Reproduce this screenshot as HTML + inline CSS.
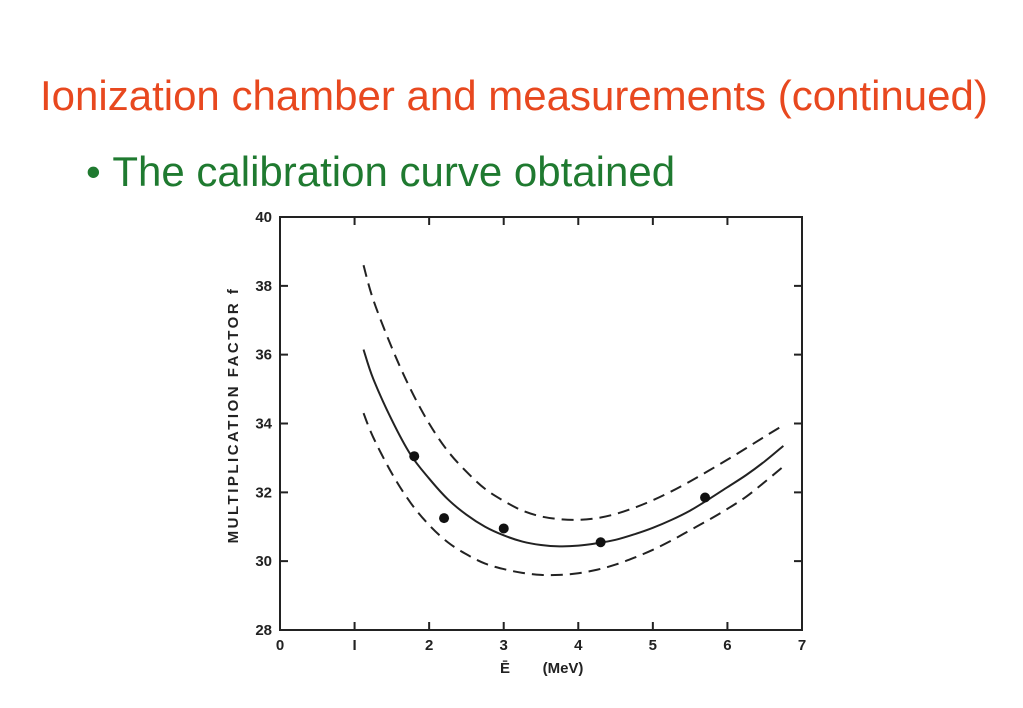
<!DOCTYPE html>
<html><head><meta charset="utf-8"><style>
body{margin:0;width:1023px;height:708px;background:#fff;overflow:hidden;font-family:"Liberation Sans",sans-serif}
.t{position:absolute;white-space:nowrap}
</style></head><body>
<div class="t" style="left:40px;top:72px;font-size:42px;color:#e8481f">Ionization chamber and measurements (continued)</div>
<div class="t" style="left:86px;top:148px;font-size:42px;color:#1f7a30">•&nbsp;The calibration curve obtained</div>
<svg width="1023" height="708" style="position:absolute;left:0;top:0">
<g id="g" font-family="Liberation Sans,sans-serif" font-weight="bold" fill="#222"></g>
</svg>
<script>
const xTicks=[0,1,2,3,4,5,6,7];
const yTicks=[28,30,32,34,36,38,40];
const curveX=[1.12,1.25,1.5,1.75,2,2.25,2.5,2.75,3,3.25,3.5,3.75,4,4.25,4.5,4.75,5,5.25,5.5,5.75,6,6.25,6.5,6.75];
const solidY=[36.15,35.3,34.1,33.1,32.4,31.8,31.35,31.0,30.75,30.57,30.47,30.43,30.45,30.52,30.62,30.78,30.97,31.2,31.47,31.8,32.15,32.5,32.9,33.35];
const upperY=[38.6,37.6,36.2,35.0,34.0,33.2,32.6,32.1,31.75,31.47,31.3,31.22,31.2,31.25,31.37,31.55,31.77,32.03,32.32,32.63,32.95,33.28,33.62,33.95];
const lowerY=[34.3,33.6,32.55,31.7,31.05,30.55,30.2,29.93,29.77,29.66,29.6,29.6,29.65,29.75,29.9,30.1,30.33,30.6,30.9,31.2,31.52,31.87,32.3,32.75];
const pointX=[1.8,2.2,3.0,4.3,5.7];
const pointY=[33.05,31.25,30.95,30.55,31.85];
const L=280,R=802,T=217,B=630;
const sx=v=>L+(v-0)/7*(R-L), sy=v=>B-(v-28)/12*(B-T);
const g=document.getElementById('g'),NS='http://www.w3.org/2000/svg';
function mk(t,a){const e=document.createElementNS(NS,t);for(const k in a)e.setAttribute(k,a[k]);g.appendChild(e);return e;}
const box=mk('rect',{x:L,y:T,width:R-L,height:B-T,fill:'none',stroke:'#222','stroke-width':2});


xTicks.forEach(v=>{const x=sx(v);
 if(v>0&&v<7){const a=mk('path',{d:`M${x},${B}V${B-8}M${x},${T}V${T+8}`,stroke:'#222','stroke-width':2});
 
 }
 const t=mk('text',{x:x,y:B+20,'font-size':15,'text-anchor':'middle'});t.textContent=v===1?'I':v;
 
 });
yTicks.forEach(v=>{const y=sy(v);
 if(v>28&&v<40){const a=mk('path',{d:`M${L},${y}H${L+8}M${R},${y}H${R-8}`,stroke:'#222','stroke-width':2});
 
 }
 const t=mk('text',{x:L-8,y:y+5,'font-size':15,'text-anchor':'end'});t.textContent=v;
 
 });
function path(xs,ys){const p=xs.map((x,i)=>[sx(x),sy(ys[i])]);let d=`M${p[0][0]},${p[0][1]}`;
 for(let i=0;i<p.length-1;i++){const p0=p[i-1]||p[i],p1=p[i],p2=p[i+1],p3=p[i+2]||p2;
 d+=`C${p1[0]+(p2[0]-p0[0])/6},${p1[1]+(p2[1]-p0[1])/6} ${p2[0]-(p3[0]-p1[0])/6},${p2[1]-(p3[1]-p1[1])/6} ${p2[0]},${p2[1]}`;}return d;}
const c1=mk('path',{d:path(curveX,solidY),fill:'none',stroke:'#222','stroke-width':2});


const c2=mk('path',{d:path(curveX,upperY),fill:'none',stroke:'#222','stroke-width':2,'stroke-dasharray':'12 7'});


const c3=mk('path',{d:path(curveX,lowerY),fill:'none',stroke:'#222','stroke-width':2,'stroke-dasharray':'12 7'});


pointX.forEach((x,i)=>{const c=mk('circle',{cx:sx(x),cy:sy(pointY[i]),r:5,fill:'#111'});
 
 });
const xl=mk('text',{x:505,y:673,'font-size':15,'text-anchor':'middle'});xl.textContent='E\u0304';


const xu=mk('text',{x:563,y:673,'font-size':15,'text-anchor':'middle'});xu.textContent='(MeV)';


const yl=mk('text',{x:0,y:0,'font-size':15,'text-anchor':'middle','letter-spacing':'2.5',transform:'translate(238,415) rotate(-90)'});yl.textContent='MULTIPLICATION FACTOR f';


</script>
</body></html>
